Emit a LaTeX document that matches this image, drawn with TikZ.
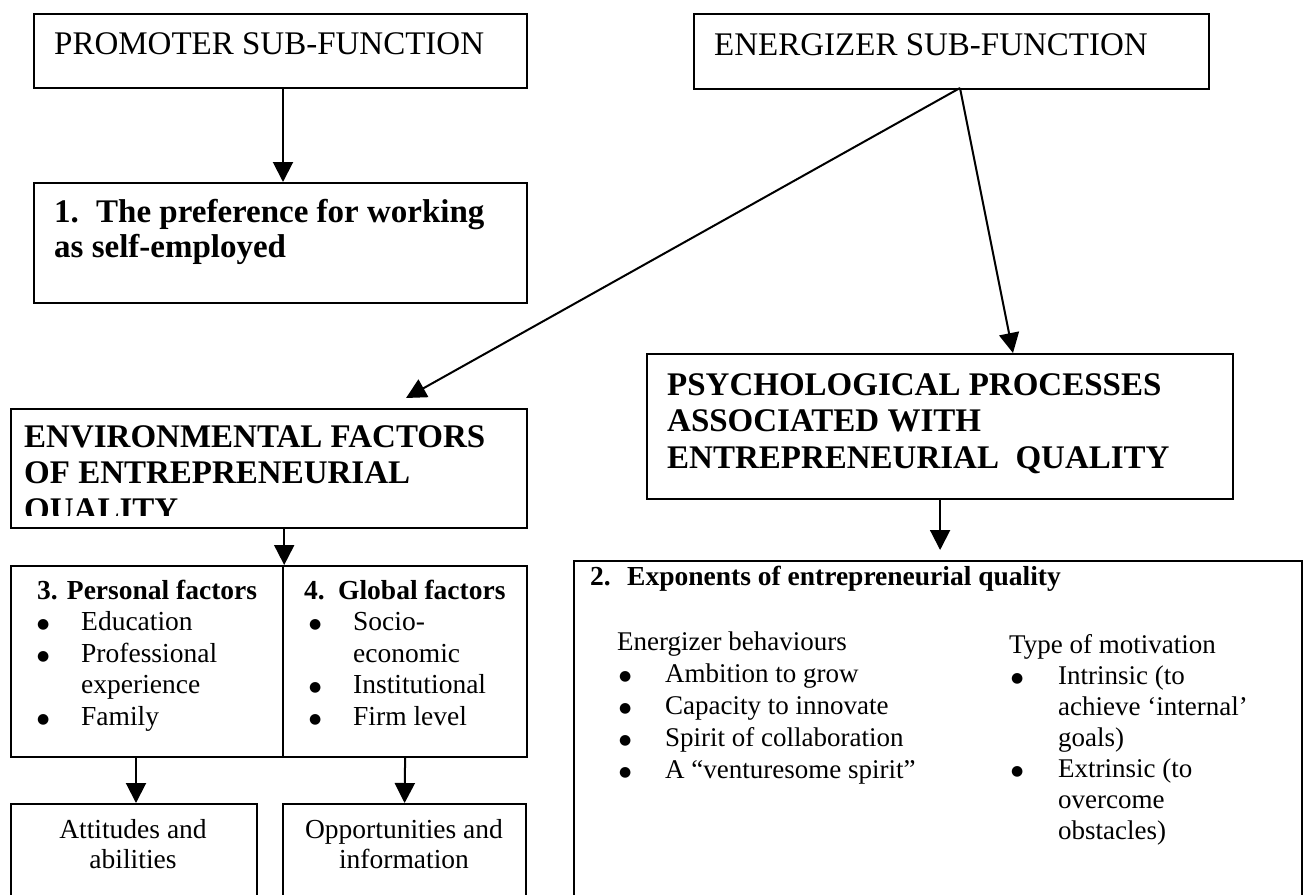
\documentclass[tikz,border=0pt]{standalone}
\usepackage{fontspec}
\setmainfont{Liberation Serif}
\newfontfamily\dotfont{DejaVu Sans}
\usetikzlibrary{arrows.meta}
% filled list marker
\newcommand{\itemdot}{\raisebox{2pt}{\dotfont\fontsize{14}{14}\selectfont ●}}
\begin{document}
\begin{tikzpicture}[x=1pt,y=-1pt,
  box/.style={draw, line width=2.2pt, inner sep=0pt, anchor=north west},
  conn/.style={line width=2pt, -{Triangle[length=20pt,width=20pt]}},
  txt/.style={anchor=base west, inner sep=0pt},
  ctxt/.style={anchor=base, inner sep=0pt},
  head/.style={font=\fontsize{33}{36.5}\selectfont},
  headbf/.style={font=\fontsize{33}{36.5}\selectfont\bfseries},
  body/.style={font=\fontsize{27.5}{31.5}\selectfont},
  expo/.style={font=\fontsize{27}{32}\selectfont},
  expob/.style={font=\fontsize{27}{31}\selectfont},
]
\useasboundingbox (0,0) rectangle (1305,894);
\clip (0,0) rectangle (1305,894);

% ---------- boxes ----------
\node[box, minimum width=493pt, minimum height=74pt]  (prom)  at (33,13)  {};
\node[box, minimum width=515pt, minimum height=75pt]  (ener)  at (693,13) {};
\node[box, minimum width=493pt, minimum height=120pt] (pref)  at (33,182) {};
\node[box, minimum width=586pt, minimum height=145pt] (psych) at (646,353) {};
\node[box, minimum width=516pt, minimum height=119pt] (env)   at (10,408) {};
\node[box, minimum width=272pt, minimum height=191pt] (pers)  at (10,565) {};
\node[box, minimum width=244pt, minimum height=191pt] (glob)  at (282,565) {};
\node[box, minimum width=246pt, minimum height=130pt] (att)   at (10,803) {};
\node[box, minimum width=243pt, minimum height=130pt] (opp)   at (282,803) {};
\node[box, minimum width=728pt, minimum height=400pt] (expo)  at (573,560) {};

% ---------- texts ----------
\node[txt, head] (promtxt) at (54,54) {PROMOTER SUB-FUNCTION};
\node[txt, head] (enertxt) at (714,55) {ENERGIZER SUB-FUNCTION};

\node[txt, headbf] (preftxt) at (54,222) {\fontsize{33}{35}\selectfont
  \begin{tabular}[t]{@{}l@{}}\makebox[42pt][l]{1.}The preference for working\\as self-employed\end{tabular}};

\node[txt, headbf] (psychtxt) at (667,395) {\begin{tabular}[t]{@{}l@{}}
  PSYCHOLOGICAL PROCESSES\\ASSOCIATED WITH\\ENTREPRENEURIAL\ \ QUALITY\end{tabular}};

\begin{scope}
  \clip (10,408) rectangle (526,515);
  \node[txt, headbf] (envtxt) at (24,447) {\begin{tabular}[t]{@{}l@{}}
    ENVIRONMENTAL FACTORS\\OF ENTREPRENEURIAL\\QUALITY\end{tabular}};
\end{scope}

\node[txt, body] (perstxt) at (37,599) {\begin{tabular}[t]{@{}l@{}}
  \textbf{3. Personal factors}\\
  \makebox[44pt][l]{\itemdot}Education\\
  \makebox[44pt][l]{\itemdot}Professional\\
  \hspace*{44pt}experience\\
  \makebox[44pt][l]{\itemdot}Family\end{tabular}};

\node[txt, body] (globtxt) at (304,599) {\begin{tabular}[t]{@{}l@{}}
  \textbf{\makebox[34pt][l]{4.}Global factors}\\
  \hspace*{5pt}\makebox[44pt][l]{\itemdot}Socio-\\
  \hspace*{49pt}economic\\
  \hspace*{5pt}\makebox[44pt][l]{\itemdot}Institutional\\
  \hspace*{5pt}\makebox[44pt][l]{\itemdot}Firm level\end{tabular}};

\node[ctxt, body] (atttxt) at (133,838) {\fontsize{27.5}{30}\selectfont
  \begin{tabular}[t]{@{}c@{}}Attitudes and\\abilities\end{tabular}};
\node[ctxt, body] (opptxt) at (404,838) {\fontsize{27.5}{30}\selectfont
  \begin{tabular}[t]{@{}c@{}}Opportunities and\\information\end{tabular}};

\node[txt, body] (expotitle) at (590,585)
  {\textbf{\makebox[37pt][l]{2.}Exponents of entrepreneurial quality}};

\node[txt, expo] (energlist) at (617,650) {\begin{tabular}[t]{@{}l@{}}
  Energizer behaviours\\
  \hspace*{2pt}\makebox[46pt][l]{\itemdot}Ambition to grow\\
  \hspace*{2pt}\makebox[46pt][l]{\itemdot}Capacity to innovate\\
  \hspace*{2pt}\makebox[46pt][l]{\itemdot}Spirit of collaboration\\
  \hspace*{2pt}\makebox[46pt][l]{\itemdot}A “venturesome spirit”\end{tabular}};

\node[txt, expob] (motivlist) at (1009,653) {\begin{tabular}[t]{@{}l@{}}
  Type of motivation\\
  \hspace*{2pt}\makebox[47pt][l]{\itemdot}Intrinsic (to\\
  \hspace*{49pt}achieve ‘internal’\\
  \hspace*{49pt}goals)\\
  \hspace*{2pt}\makebox[47pt][l]{\itemdot}Extrinsic (to\\
  \hspace*{49pt}overcome\\
  \hspace*{49pt}obstacles)\end{tabular}};

% ---------- connectors ----------
\coordinate (promx) at (283,0);
\coordinate (split) at (960,88);
\coordinate (envtip) at (406,398);
\coordinate (psychx) at (1013,0);
\coordinate (persx) at (136,0);

\draw[conn] (prom.south -| promx) -- (pref.north -| promx);
\draw[conn] (split) -- (envtip);
\draw[conn] (split) -- (psych.north -| psychx);
\draw[conn] (env.south -| pers.north east) -- (pers.north east);
\draw[conn] (pers.south -| persx) -- (att.north -| persx);
\draw[conn] (glob.south) -- (opp.north);
\draw[conn, shorten >=10pt] (psych.south) -- (expo.north -| psych.south);
\end{tikzpicture}
\end{document}
